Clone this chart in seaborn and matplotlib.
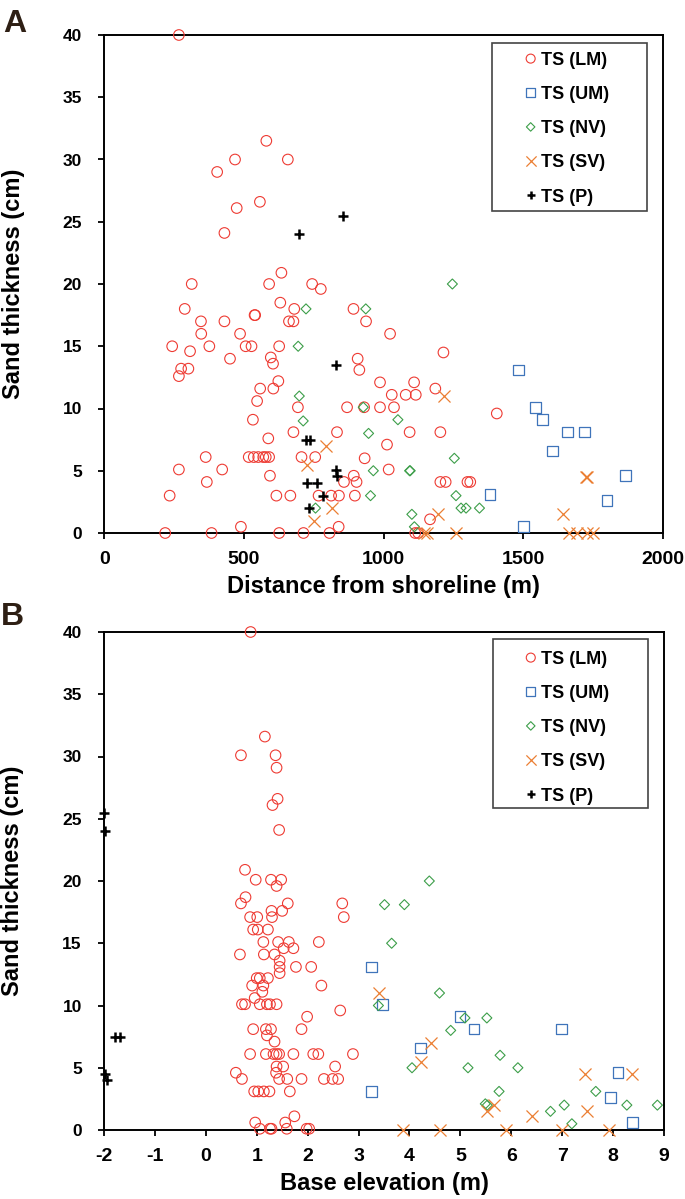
"""Tsunami sand thickness vs distance from shoreline and base elevation."""

import matplotlib

matplotlib.use("Agg")

import matplotlib.pyplot as plt
import seaborn as sns
from matplotlib.patches import Rectangle

# ---- panel A: distance from shoreline (m) vs sand thickness (cm)
lm_dist = [267, 580, 468, 657, 404, 474, 557, 430,
           634, 313, 590, 744, 775, 630, 288, 680, 892,
           346, 430, 538, 540, 661, 677, 937,
           347, 486, 1023,
           243, 376, 506, 527, 626,
           307, 1214, 450, 596, 604, 907, 913,
           275, 301, 267,
           623, 987, 1109, 558, 605, 1185,
           1029, 1079, 1115,
           547, 693, 869, 930, 987, 1037,
           532, 1405,
           677, 833, 1093, 1203,
           587, 1012,
           363, 517, 535, 551, 569, 578, 590, 706, 755, 932,
           267, 422, 1018,
           593, 893, 367, 858, 903, 1203, 1222, 1300, 1310,
           234, 616, 666, 767, 812, 840, 897,
           1166,
           218, 384, 489, 626, 713, 806, 839, 1113, 1124]
lm_thick_a = [40.0, 31.5, 30.0, 30.0, 29.0, 26.1, 26.6, 24.1,
              20.9, 20.0, 20.0, 20.0, 19.6, 18.5, 18.0, 18.0, 18.0,
              17.0, 17.0, 17.5, 17.5, 17.0, 17.0, 17.0,
              16.0, 16.0, 16.0,
              15.0, 15.0, 15.0, 15.0, 15.0,
              14.6, 14.5, 14.0, 14.1, 13.6, 14.0, 13.1,
              13.2, 13.2, 12.6,
              12.2, 12.1, 12.1, 11.6, 11.6, 11.6,
              11.1, 11.1, 11.1,
              10.6, 10.1, 10.1, 10.1, 10.1, 10.1,
              9.1, 9.6,
              8.1, 8.1, 8.1, 8.1,
              7.6, 7.1,
              6.1, 6.1, 6.1, 6.1, 6.1, 6.1, 6.1, 6.1, 6.1, 6.0,
              5.1, 5.1, 5.1,
              4.6, 4.6, 4.1, 4.1, 4.1, 4.1, 4.1, 4.1, 4.1,
              3.0, 3.0, 3.0, 3.0, 3.0, 3.0, 3.0,
              1.1,
              0.0, 0.0, 0.5, 0.0, 0.0, 0.0, 0.5, 0.0, 0.0]

um_dist = [1483, 1543, 1569, 1659, 1720, 1604, 1866, 1381, 1799, 1501]
um_thick_a = [13.1, 10.1, 9.1, 8.1, 8.1, 6.6, 4.6, 3.1, 2.6, 0.5]

nv_dist = [1246, 722, 936, 694, 698, 927, 1051, 712, 946, 1253, 963, 1093,
           1095, 953, 1259, 756, 1277, 1295, 1343, 1101, 1110]
nv_thick_a = [20.0, 18.0, 18.0, 15.0, 11.0, 10.1, 9.1, 9.0, 8.0, 6.0, 5.0, 5.0,
              5.0, 3.0, 3.0, 2.0, 2.0, 2.0, 2.0, 1.5, 0.5]

sv_dist = [792, 725, 815, 750, 1217, 1724, 1727, 1642, 1193,
           1143, 1154, 1259, 1663, 1691, 1727, 1751]
sv_thick_a = [7.0, 5.5, 2.0, 1.0, 11.0, 4.5, 4.5, 1.5, 1.5,
              0.0, 0.0, 0.0, 0.0, 0.0, 0.0, 0.0]

p_dist = [698, 856, 830, 721, 737, 830, 834, 727, 761, 782, 731]
p_thick_a = [24.0, 25.5, 13.5, 7.5, 7.5, 5.1, 4.6, 4.0, 4.0, 3.0, 2.0]

# ---- panel B: base elevation (m) vs sand thickness (cm)
lm_elev = [0.88, 1.16, 0.69, 1.37, 1.39, 1.41, 1.31, 1.44,
           0.77, 0.98, 1.28, 1.48, 1.39, 0.78, 0.69, 1.61, 2.68,
           1.29, 1.50, 0.87, 1.01, 1.30, 2.71,
           0.93, 1.02, 1.22,
           1.13, 1.42, 1.63, 2.22,
           1.53, 1.72, 0.67, 1.14, 1.35,
           1.45, 1.45, 1.45, 1.77, 2.07,
           1.00, 1.06, 1.22,
           0.91, 1.13, 2.27, 1.11, 0.96,
           0.71, 0.77, 1.06, 1.20, 1.26, 1.39,
           2.64, 1.99,
           0.93, 1.18, 1.28, 1.88, 1.20, 1.35,
           0.87, 1.18, 1.33, 1.39, 1.44, 1.72, 2.11, 2.21, 2.89,
           1.39, 1.52, 2.54, 0.59, 1.38,
           0.71, 1.44, 1.60, 1.88, 2.32, 2.49, 2.60,
           0.95, 1.03, 1.14, 1.25, 1.65,
           1.74, 0.97, 1.56,
           1.06, 1.26, 1.29, 1.59, 1.98, 2.03]
lm_thick_b = [40.0, 31.6, 30.1, 30.1, 29.1, 26.6, 26.1, 24.1,
              20.9, 20.1, 20.1, 20.1, 19.6, 18.7, 18.2, 18.2, 18.2,
              17.6, 17.6, 17.1, 17.1, 17.1, 17.1,
              16.1, 16.1, 16.1,
              15.1, 15.1, 15.1, 15.1,
              14.6, 14.6, 14.1, 14.1, 14.1,
              13.6, 13.1, 12.6, 13.1, 13.1,
              12.2, 12.2, 12.2,
              11.6, 11.6, 11.6, 11.1, 10.6,
              10.1, 10.1, 10.1, 10.1, 10.1, 10.1,
              9.6, 9.1,
              8.1, 8.1, 8.1, 8.1, 7.6, 7.1,
              6.1, 6.1, 6.1, 6.1, 6.1, 6.1, 6.1, 6.1, 6.1,
              5.1, 5.1, 5.1, 4.6, 4.6,
              4.1, 4.1, 4.1, 4.1, 4.1, 4.1, 4.1,
              3.1, 3.1, 3.1, 3.1, 3.1,
              1.1, 0.6, 0.6,
              0.1, 0.1, 0.1, 0.1, 0.1, 0.1]

um_elev = [3.25, 3.47, 4.99, 5.27, 6.99, 4.22, 8.10, 3.25, 7.95, 8.38]
um_thick_b = [13.1, 10.1, 9.1, 8.1, 8.1, 6.6, 4.6, 3.1, 2.6, 0.6]

nv_elev = [4.39, 3.51, 3.90, 3.65, 4.59, 3.39, 5.09, 5.52, 4.81, 5.78, 4.05,
           5.15, 6.13, 5.76, 7.66, 5.49, 5.53, 7.04, 8.27, 8.87, 6.77, 7.19]
nv_thick_b = [20.0, 18.1, 18.1, 15.0, 11.0, 10.0, 9.0, 9.0, 8.0, 6.0, 5.0,
              5.0, 5.0, 3.1, 3.1, 2.1, 2.0, 2.0, 2.0, 2.0, 1.5, 0.5]

sv_elev = [3.40, 4.43, 4.23, 7.45, 8.37, 5.67, 5.52, 7.48, 6.40,
           3.87, 4.60, 5.89, 6.99, 7.91]
sv_thick_b = [11.0, 7.0, 5.5, 4.5, 4.5, 2.0, 1.5, 1.5, 1.1,
              0.0, 0.0, 0.0, 0.0, 0.0]

p_elev = [-2.0, -1.98, -1.78, -1.69, -1.98, -1.95]
p_thick_b = [25.5, 24.0, 7.5, 7.5, 4.5, 4.0]

labels = ["TS (LM)", "TS (UM)", "TS (NV)", "TS (SV)", "TS (P)"]
dist_ticks = [0, 500, 1000, 1500, 2000]
elev_ticks = list(range(-2, 10))
thick_ticks = list(range(0, 45, 5))

STYLES = {
    "TS (LM)": dict(marker="o", s=58, facecolor="none", edgecolor="#EE3B33", color="#EE3B33", linewidth=0.8),
    "TS (UM)": dict(marker="s", s=58, facecolor="none", edgecolor="#3F74BA", color="#3F74BA", linewidth=0.9),
    "TS (NV)": dict(marker="D", s=26, facecolor="none", edgecolor="#3C9E49", color="#3C9E49", linewidth=0.8),
    "TS (SV)": dict(marker="x", s=75, color="#EB7F33", linewidth=0.9),
    "TS (P)": dict(marker="+", s=55, color="black", linewidth=1.8),
}

sns.set_theme(style="ticks")
plt.rcParams["font.family"] = ["Liberation Sans", "DejaVu Sans"]
plt.rcParams["font.weight"] = "bold"
plt.rcParams["axes.labelweight"] = "bold"
plt.rcParams["axes.unicode_minus"] = False
for key in ("text.color", "axes.labelcolor", "xtick.color", "ytick.color", "axes.edgecolor"):
    plt.rcParams[key] = "black"

W, H = 685, 1199
fig = plt.figure(figsize=(W / 100, H / 100), dpi=100)
ax_a = fig.add_axes([104.3 / W, 1 - 533 / H, 558.7 / W, 498 / H])
ax_b = fig.add_axes([104 / W, 1 - 1130 / H, 560 / W, 498 / H])


def draw_panel(ax, series, xlim, xticks, xlabel, legend_box, legend_anchor):
    for label, (xs, ys) in zip(labels, series):
        sns.scatterplot(x=xs, y=ys, ax=ax, label=label, legend=False,
                        clip_on=False, zorder=3, **STYLES[label])
    ax.set_xlim(*xlim)
    ax.set_ylim(0, 40)
    ax.set_xticks(xticks)
    ax.set_yticks(thick_ticks)
    for side in ("top", "right", "left", "bottom"):
        ax.spines[side].set_visible(True)
        ax.spines[side].set_linewidth(1.4)
        ax.spines[side].set_color("black")
    ax.tick_params(axis="both", direction="out", length=4, width=1.3, bottom=True, left=True)
    ax.tick_params(axis="x", labelsize=14, pad=9)
    ax.tick_params(axis="y", labelsize=12.5, pad=12)
    ax.set_xlabel(xlabel, fontsize=17, fontweight="bold")
    ax.set_ylabel("Sand thickness (cm)", fontsize=17, fontweight="bold")
    ax.xaxis.set_label_coords(0.5, -0.084)
    ax.yaxis.set_label_coords(-0.142, 0.5)

    ax.add_patch(Rectangle(legend_box[:2], legend_box[2], legend_box[3], transform=ax.transAxes,
                           facecolor="white", edgecolor="#444444", linewidth=1.2, zorder=4))
    handles, texts = ax.get_legend_handles_labels()
    leg = ax.legend(handles, texts, loc="upper left", bbox_to_anchor=legend_anchor,
                    frameon=False, fontsize=13, borderpad=0, borderaxespad=0,
                    handlelength=0.75, handletextpad=0.2, labelspacing=0.95,
                    markerscale=0.85, scatteryoffsets=[0.5])
    leg.set_zorder(5)


draw_panel(ax_a,
           [(lm_dist, lm_thick_a), (um_dist, um_thick_a), (nv_dist, nv_thick_a),
            (sv_dist, sv_thick_a), (p_dist, p_thick_a)],
           (0, 2000), dist_ticks, "Distance from shoreline (m)",
           (0.694, 0.6466, 0.2774, 0.3373), (0.751, 0.966))
draw_panel(ax_b,
           [(lm_elev, lm_thick_b), (um_elev, um_thick_b), (nv_elev, nv_thick_b),
            (sv_elev, sv_thick_b), (p_elev, p_thick_b)],
           (-2, 9), elev_ticks, "Base elevation (m)",
           (0.6946, 0.6466, 0.2768, 0.339), (0.75, 0.962))

fig.text(3 / W, 1 - 32 / H, "A", fontsize=23, fontweight="bold", color="#2E1F14", va="baseline")
fig.text(1 / W, 1 - 625 / H, "B", fontsize=23, fontweight="bold", color="#2E1F14", va="baseline")

fig.savefig("out.png", dpi=100)
